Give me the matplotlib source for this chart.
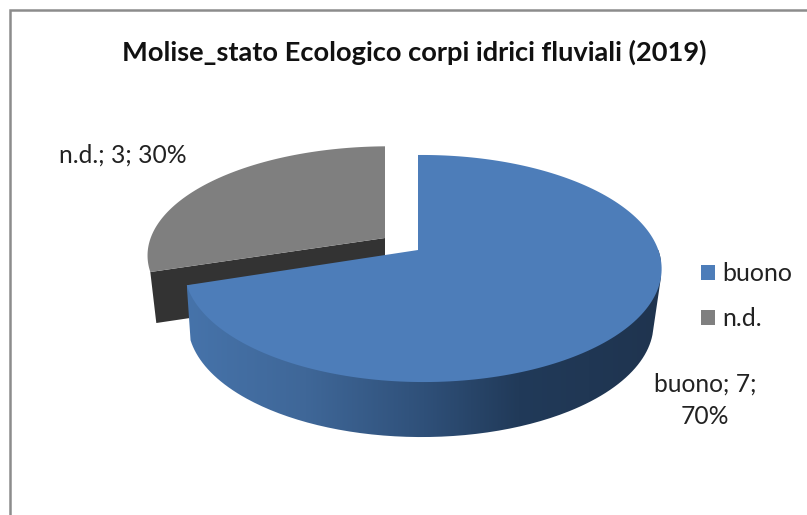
import numpy as np
import matplotlib
matplotlib.use('Agg')
import matplotlib.pyplot as plt
from matplotlib.colors import LinearSegmentedColormap
from matplotlib.patches import Patch, PathPatch, Polygon
from matplotlib.path import Path

plt.rcParams['font.family'] = ['Lato', 'DejaVu Sans']

title = 'Molise_stato Ecologico corpi idrici fluviali (2019)'
categories = ['buono', 'n.d.']
values = [7, 3]
colors = ['#4d7db9', '#7f7f7f']
percent = [100 * v / sum(values) for v in values]


def project(angle, apex, sx=1.0, sy=1.0, lower=False):
    # angle is clockwise from the top, in degrees. Pie circle -> tilted ellipse
    a = np.radians(angle)
    u, v = np.sin(a), np.cos(a)
    d = 1 + 0.163 * v - 0.02 * u
    x = 235.5 * sx * u / d
    y = 110.5 * sy * v / d
    if lower:
        x = x * 0.975 - 2
        y = y - 55 * sy
    return apex[0] + x, apex[1] - y


def arc(start, end, apex, **kw):
    t = np.linspace(start, end, 200)
    return np.column_stack(project(t, apex, **kw))


def hull(pts):
    # monotone chain, the side of the slice has no notch at the right
    pts = sorted(map(tuple, pts))
    def half(seq):
        out = []
        for p in seq:
            while len(out) > 1 and ((out[-1][0] - out[-2][0]) * (p[1] - out[-2][1])
                                    - (out[-1][1] - out[-2][1]) * (p[0] - out[-2][0])) <= 0:
                out.pop()
            out.append(p)
        return out[:-1]
    return np.array(half(pts) + half(pts[::-1]))


fig = plt.figure(figsize=(8.07, 5.15), dpi=100)
ax = fig.add_axes([0, 0, 1, 1])

end_blue = 360 * values[0] / sum(values)

# exploded grey slice
apex_g = (385, 238)
kw_g = dict(sx=1.015, sy=0.965)
lx, ly = project(end_blue, apex_g, **kw_g)
ax.add_patch(Polygon([apex_g, (lx, ly), (lx + 6, ly + 51), (apex_g[0], apex_g[1] + 51)],
                     closed=True, fc='#333333', ec='none'))
top_g = arc(end_blue, 360, apex_g, **kw_g)
ax.add_patch(Polygon(np.vstack([[apex_g], top_g]), closed=True, fc=colors[1], ec='none'))

# blue slice: side with gradient, then top
apex_b = (418, 250)
rim = hull(np.vstack([arc(90, end_blue, apex_b), arc(90, end_blue, apex_b, lower=True)]))
cmap = LinearSegmentedColormap.from_list('side', [
    (0.00, '#4673aa'), (0.25, '#3f6798'), (0.50, '#2f5079'),
    (0.70, '#213a59'), (1.00, '#1f344f')])
im = ax.imshow(np.linspace(0, 1, 256)[None, :], cmap=cmap, aspect='auto',
               extent=(187, 661, 440, 150), zorder=2)
clip = PathPatch(Path(np.vstack([rim, rim[:1]])), transform=ax.transData, fc='none', ec='none')
ax.add_patch(clip)
im.set_clip_path(clip)
top_b = arc(0, end_blue, apex_b)
ax.add_patch(Polygon(np.vstack([[apex_b], top_b]), closed=True, fc=colors[0], ec='none', zorder=3))

ax.set_xlim(0, 807)
ax.set_ylim(515, 0)
ax.axis('off')

# chart frame, only top and left are in view
ax.plot([10, 10, 807], [515, 9.5, 9.5], color='#8c8c8c', lw=1.8, solid_joinstyle='miter')

ax.text(414, 52, title, ha='center', va='center', fontsize=19.6, fontweight='bold', color='#111111')
ax.text(122.5, 155, f'{categories[1]}; {values[1]}; {percent[1]:.0f}%', ha='center', va='center',
        fontsize=17.7, color='#222222')
ax.text(705, 400, f'{categories[0]}; {values[0]};\n{percent[0]:.0f}%', ha='center', va='center',
        fontsize=17.7, color='#222222', linespacing=1.5)

handles = [Patch(fc=c, ec='none') for c in colors]
ax.legend(handles, categories, loc='center left', bbox_to_anchor=(701 / 807, 1 - 296 / 515),
          frameon=False, fontsize=18, handlelength=0.56, handleheight=0.56,
          handletextpad=0.28, labelspacing=0.88, labelcolor='#222222',
          borderpad=0, borderaxespad=0)

fig.savefig('out.png', dpi=100)
